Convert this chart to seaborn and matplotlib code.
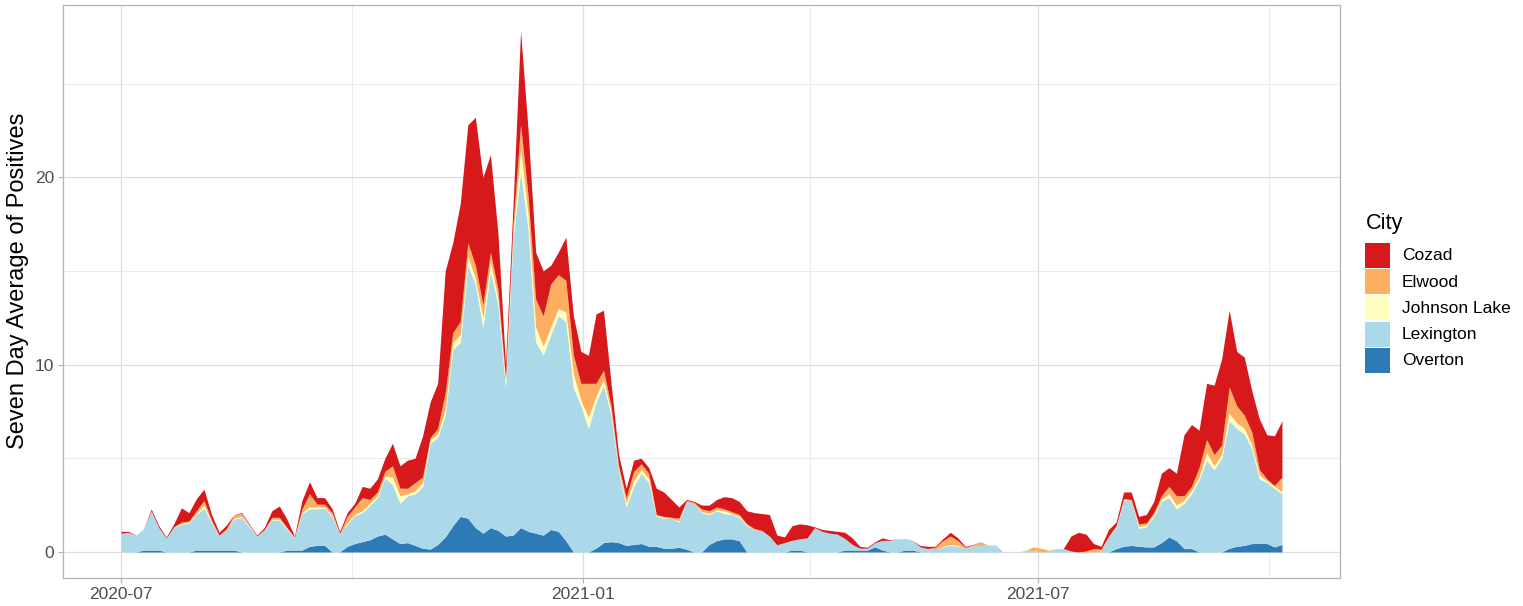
import numpy as np
import pandas as pd
import matplotlib
matplotlib.use("Agg")
import matplotlib.pyplot as plt
import matplotlib.dates as mdates
from matplotlib.patches import Rectangle
import seaborn as sns

# seven day averages, one value every 3 days from 2020-07-01
start_date = "2020-07-01"
step = "3D"

overton = [
    0, 0, 0, 0.1, 0.1, 0.1, 0, 0, 0, 0,
    0.1, 0.1, 0.1, 0.1, 0.1, 0.1, 0, 0, 0, 0,
    0, 0, 0.1, 0.1, 0.1, 0.3, 0.35, 0.35, 0, 0,
    0.3, 0.45, 0.55, 0.65, 0.85, 0.95, 0.7, 0.45, 0.5, 0.35,
    0.2, 0.15, 0.4, 0.8, 1.4, 1.9, 1.8, 1.3, 1.0, 1.3,
    1.15, 0.85, 0.9, 1.3, 1.1, 1.0, 0.9, 1.2, 1.1, 0.6,
    0, 0, 0, 0.2, 0.5, 0.55, 0.5, 0.35, 0.4, 0.45,
    0.3, 0.3, 0.2, 0.2, 0.25, 0.15, 0, 0, 0.4, 0.6,
    0.7, 0.7, 0.6, 0, 0, 0, 0, 0, 0, 0.1,
    0.1, 0, 0, 0, 0, 0, 0.1, 0.1, 0.1, 0.1,
    0.27, 0.1, 0, 0, 0.1, 0.1, 0, 0, 0, 0,
    0, 0, 0, 0, 0, 0, 0, 0, 0, 0,
    0, 0, 0, 0, 0, 0, 0, 0, 0, 0,
    0, 0, 0.18, 0.3, 0.35, 0.3, 0.27, 0.27, 0.5, 0.8,
    0.6, 0.18, 0.18, 0, 0, 0, 0, 0.2, 0.3, 0.35,
    0.45, 0.45, 0.45, 0.27, 0.4,
]
lexington = [
    1.0, 1.05, 0.9, 1.15, 2.1, 1.2, 0.75, 1.35, 1.45, 1.55,
    1.9, 2.25, 1.45, 0.75, 1.1, 1.65, 1.85, 1.35, 0.85, 1.15,
    1.7, 1.7, 1.1, 0.65, 1.95, 2.0, 1.95, 2.0, 1.9, 0.95,
    1.2, 1.5, 1.55, 1.85, 2.05, 3.0, 2.9, 2.15, 2.5, 2.75,
    3.3, 5.65, 5.7, 6.5, 9.4, 9.3, 13.5, 13.0, 11.0, 13.7,
    12.05, 7.95, 15.8, 19.0, 16.1, 10.2, 9.6, 10.4, 11.5, 11.7,
    8.8, 7.8, 6.6, 7.8, 8.4, 6.75, 3.8, 2.05, 3.1, 3.75,
    3.4, 1.6, 1.6, 1.6, 1.35, 2.55, 2.55, 2.1, 1.6, 1.6,
    1.35, 1.3, 1.25, 1.4, 1.2, 1.1, 0.85, 0.38, 0.5, 0.52,
    0.6, 0.75, 1.3, 1.1, 1.0, 0.95, 0.62, 0.3, 0.1, 0.1,
    0.23, 0.52, 0.62, 0.7, 0.62, 0.52, 0.28, 0.18, 0.12, 0.28,
    0.35, 0.32, 0.2, 0.32, 0.35, 0.38, 0.37, 0, 0, 0,
    0.1, 0.08, 0, 0.05, 0.18, 0.18, 0.05, 0, 0, 0,
    0.05, 0.8, 1.12, 2.45, 2.4, 0.95, 1.08, 1.63, 2.2, 2.1,
    1.7, 2.42, 2.92, 3.85, 4.9, 4.4, 5.0, 6.8, 6.3, 5.95,
    5.05, 3.45, 3.25, 3.13, 2.7,
]
johnson_lake = [
    0, 0, 0, 0, 0, 0, 0, 0, 0.05, 0.05,
    0.05, 0.15, 0.05, 0, 0, 0.05, 0.05, 0.05, 0, 0,
    0.05, 0.05, 0.05, 0, 0.05, 0.1, 0.1, 0.05, 0.05, 0,
    0.05, 0.05, 0.1, 0.1, 0.1, 0.1, 0.4, 0.4, 0.1, 0.15,
    0.2, 0.2, 0.2, 0.3, 0.4, 0.4, 0.5, 0.3, 0.5, 0.5,
    0.3, 0.3, 0.3, 1.2, 0.8, 0.8, 0.5, 0.4, 0.4, 0.5,
    0.7, 0.3, 0.6, 0.3, 0.3, 0.2, 0.1, 0.2, 0.3, 0.2,
    0.2, 0.05, 0.05, 0, 0.05, 0, 0, 0.05, 0.05, 0.05,
    0.15, 0.05, 0.05, 0.05, 0, 0, 0, 0, 0, 0,
    0, 0, 0, 0, 0, 0, 0, 0, 0, 0,
    0, 0, 0, 0, 0, 0, 0, 0, 0, 0.02,
    0.05, 0.03, 0, 0, 0, 0, 0, 0, 0, 0,
    0, 0, 0, 0, 0, 0, 0, 0, 0, 0,
    0, 0, 0.05, 0.05, 0, 0.1, 0.1, 0.1, 0.1, 0.2,
    0.2, 0.15, 0.2, 0.15, 0.4, 0.2, 0.2, 0.4, 0.3, 0.3,
    0.2, 0.2, 0.1, 0.1, 0.1,
]
elwood = [
    0, 0, 0, 0, 0, 0, 0, 0, 0.1, 0.05,
    0.15, 0.25, 0.1, 0.05, 0.05, 0.2, 0.15, 0.05, 0, 0.05,
    0.1, 0.1, 0.05, 0.05, 0.2, 0.7, 0.15, 0.15, 0.15, 0.05,
    0.35, 0.4, 0.7, 0.2, 0.2, 0.25, 0.6, 0.4, 0.3, 0.45,
    0.3, 0.1, 0.3, 0.9, 0.5, 0.7, 0.7, 0.7, 0.7, 0.5,
    0.5, 0.2, 0.5, 1.3, 1.0, 1.5, 1.6, 2.3, 1.8, 1.7,
    1.0, 0.9, 1.8, 0.7, 0.5, 0.3, 0.2, 0.3, 0.5, 0.3,
    0.3, 0.05, 0.05, 0.05, 0.15, 0.05, 0.1, 0.15, 0.15, 0.15,
    0.1, 0.1, 0.1, 0.05, 0.05, 0.05, 0, 0, 0, 0,
    0, 0, 0, 0, 0, 0, 0, 0, 0, 0,
    0, 0, 0, 0, 0, 0, 0, 0, 0.13, 0.3,
    0.45, 0.25, 0.05, 0.06, 0.2, 0, 0, 0, 0, 0,
    0, 0.19, 0.2, 0.05, 0, 0, 0, 0, 0.05, 0.18,
    0.1, 0.05, 0.05, 0.05, 0.05, 0.15, 0.1, 0.1, 0.2, 0.4,
    0.5, 0.25, 0.2, 0.5, 0.7, 0.6, 0.5, 1.4, 0.9, 0.7,
    0.7, 0.3, 0.1, 0.05, 0.8,
]
cozad = [
    0.1, 0.05, 0, 0, 0.1, 0.1, 0.05, 0.15, 0.75, 0.45,
    0.65, 0.6, 0.3, 0.15, 0.2, 0, 0.05, 0.05, 0.05, 0.1,
    0.35, 0.6, 0.45, 0.05, 0.45, 0.65, 0.35, 0.35, 0.2, 0.1,
    0.2, 0.2, 0.6, 0.6, 0.7, 0.7, 1.2, 1.2, 1.5, 1.3,
    2.2, 1.9, 2.4, 6.5, 4.8, 6.3, 6.3, 7.9, 6.8, 5.2,
    3.0, 0.7, 1.0, 5.0, 3.5, 2.5, 2.4, 1.0, 1.2, 2.3,
    2.1, 1.7, 1.5, 3.7, 3.2, 1.2, 0.6, 0.5, 0.6, 0.3,
    0.3, 1.4, 1.3, 0.95, 0.6, 0.05, 0.05, 0.2, 0.3, 0.4,
    0.65, 0.75, 0.7, 0.7, 0.85, 0.9, 1.15, 0.52, 0.3, 0.78,
    0.8, 0.7, 0.04, 0.1, 0.15, 0.15, 0.33, 0.35, 0.1, 0.05,
    0.05, 0.13, 0.03, 0, 0, 0, 0.07, 0.12, 0.05, 0.1,
    0.2, 0.15, 0.05, 0.02, 0, 0, 0, 0, 0, 0,
    0, 0, 0, 0, 0, 0, 0.8, 1.05, 0.9, 0.27,
    0.15, 0.35, 0.2, 0.35, 0.4, 0.4, 0.45, 0.6, 1.2, 1.0,
    1.2, 3.25, 3.3, 2.0, 3.0, 3.7, 4.6, 4.1, 2.9, 3.1,
    2.2, 2.7, 2.35, 2.65, 3.0,
]

# stacking order, bottom to top
stack_order = ["Overton", "Lexington", "Johnson Lake", "Elwood", "Cozad"]
legend_order = ["Cozad", "Elwood", "Johnson Lake", "Lexington", "Overton"]
city_colors = ["#D7191C", "#FDAE61", "#FFFFBF", "#ABD9E9", "#2C7BB6"]

df = pd.DataFrame({
    "date": pd.date_range(start_date, periods=len(cozad), freq=step),
    "Overton": overton,
    "Lexington": lexington,
    "Johnson Lake": johnson_lake,
    "Elwood": elwood,
    "Cozad": cozad,
})

sns.set_theme(style="whitegrid")
plt.rcParams["font.family"] = ["Liberation Sans", "DejaVu Sans"]
palette = dict(zip(legend_order, sns.color_palette(city_colors)))

W, H = 1523, 606
fig = plt.figure(figsize=(W / 100, H / 100), dpi=100)
ax = fig.add_axes([63 / W, 1 - 578 / H, (1340 - 63) / W, (578 - 5) / H])

ax.stackplot(
    df["date"],
    [df[c] for c in stack_order],
    colors=[palette[c] for c in stack_order],
    linewidth=0,
)

# ggplot-like expansion
total = df[stack_order].sum(axis=1)
pad_days = pd.Timedelta(days=(df["date"].iloc[-1] - df["date"].iloc[0]).days * 0.05)
ax.set_xlim(df["date"].iloc[0] - pad_days, df["date"].iloc[-1] + pad_days)
ax.set_ylim(-0.05 * total.max(), 1.05 * total.max())

ax.xaxis.set_major_locator(mdates.MonthLocator(bymonth=[1, 7]))
ax.xaxis.set_minor_locator(mdates.MonthLocator(bymonth=[4, 10]))
ax.xaxis.set_major_formatter(mdates.DateFormatter("%Y-%m"))
ax.set_yticks([0, 10, 20])
ax.set_yticks([5, 15, 25], minor=True)

ax.set_facecolor("white")
ax.set_axisbelow(True)
ax.grid(which="major", color="#DEDEDE", linewidth=0.9)
ax.grid(which="minor", color="#E8E8E8", linewidth=0.6)
for s in ax.spines.values():
    s.set_visible(True)
    s.set_color("#B3B3B3")
    s.set_linewidth(0.9)

ax.tick_params(which="major", length=3.5, width=0.8, color="#B3B3B3",
               labelcolor="#4D4D4D", labelsize=12.5, pad=3,
               bottom=True, left=True)
ax.tick_params(which="minor", length=0)
ax.set_xlabel("")
ax.set_ylabel("")

fig.text(18 / W, 1 - 281 / H, "Seven Day Average of Positives",
         rotation=90, ha="center", va="center", fontsize=17, color="black")

# legend, drawn by hand so keys match the ggplot size
fig.text(1366 / W, 1 - 223 / H, "City", ha="left", va="center",
         fontsize=15.6, color="black")
for i, city in enumerate(legend_order):
    top = 243 + 26.2 * i
    fig.patches.append(Rectangle((1365 / W, 1 - (top + 25) / H), 25 / W, 25 / H,
                                 transform=fig.transFigure, facecolor=palette[city],
                                 edgecolor="none"))
    fig.text(1402 / W, 1 - (top + 13) / H, city, ha="left", va="center",
             fontsize=12.5, color="black")

fig.savefig("out.png", dpi=100)
